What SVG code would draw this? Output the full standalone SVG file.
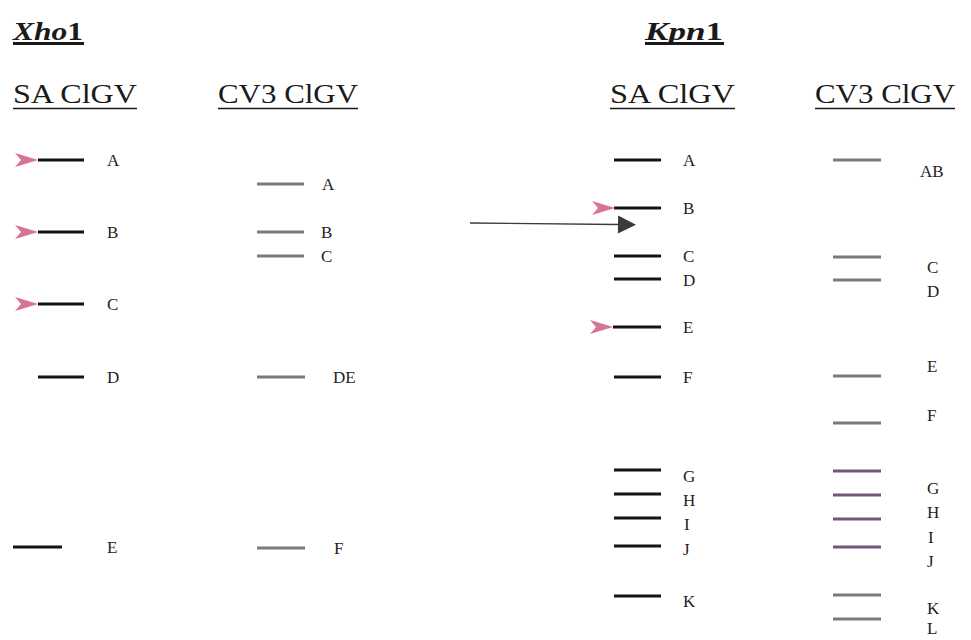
<svg xmlns="http://www.w3.org/2000/svg" width="971" height="640" viewBox="0 0 971 640">
  <defs>
    <style>
      .title { font-family: "Liberation Serif", serif; font-size: 26px; font-weight: bold; font-style: italic; fill: #1a1a1a; }
      .head { font-family: "Liberation Serif", serif; font-size: 27px; fill: #1a1a1a; }
      .lbl { font-family: "Liberation Serif", serif; font-size: 17px; fill: #222; }
      .sa { stroke: #141414; stroke-width: 3; }
      .cv { stroke: #7a7a7a; stroke-width: 3.2; }
      .cvp { stroke: #74557f; stroke-width: 3; }
      .ul { stroke: #1a1a1a; stroke-width: 1.5; }
      .tick { fill: #d77393; }
    </style>
    <!-- pink notched pointer marking a band -->
    <path id="ptr" d="M-23,-7 L0,0 L-23,7 L-17,0 Z"/>
    <marker id="bigHead" markerWidth="20" markerHeight="20" refX="1" refY="10" orient="auto" markerUnits="userSpaceOnUse">
      <path d="M1,1 L19,10 L1,19 Z" fill="#3a3a3a"/>
    </marker>
  </defs>
  <rect width="971" height="640" fill="#ffffff"/>

  <!-- enzyme titles -->
  <g id="title-xho1">
    <text class="title" x="13" y="40" textLength="70" lengthAdjust="spacingAndGlyphs">Xho<tspan font-style="normal">1</tspan></text>
    <rect x="13" y="42" width="71" height="3" fill="#1a1a1a"/>
  </g>
  <g id="title-kpn1">
    <text class="title" x="645" y="40" textLength="78" lengthAdjust="spacingAndGlyphs">Kpn<tspan font-style="normal">1</tspan></text>
    <rect x="645" y="42" width="79" height="3" fill="#1a1a1a"/>
  </g>

  <!-- lane headings -->
  <g id="head-xho-sa">
    <text class="head" x="13" y="103" textLength="124" lengthAdjust="spacingAndGlyphs">SA ClGV</text>
    <line class="ul" x1="13" y1="108.5" x2="137" y2="108.5"/>
  </g>
  <g id="head-xho-cv3">
    <text class="head" x="218" y="103" textLength="140" lengthAdjust="spacingAndGlyphs">CV3 ClGV</text>
    <line class="ul" x1="218" y1="108.5" x2="358" y2="108.5"/>
  </g>
  <g id="head-kpn-sa">
    <text class="head" x="610" y="103" textLength="125" lengthAdjust="spacingAndGlyphs">SA ClGV</text>
    <line class="ul" x1="610" y1="108.5" x2="735" y2="108.5"/>
  </g>
  <g id="head-kpn-cv3">
    <text class="head" x="815" y="103" textLength="140" lengthAdjust="spacingAndGlyphs">CV3 ClGV</text>
    <line class="ul" x1="815" y1="108.5" x2="955" y2="108.5"/>
  </g>

  <!-- Xho1, SA ClGV lane -->
  <g id="xho-sa">
    <g id="xho-sa-A"><line class="sa" x1="38" y1="160" x2="84" y2="160"/><use href="#ptr" class="tick" x="38" y="160"/><text class="lbl" x="107" y="166">A</text></g>
    <g id="xho-sa-B"><line class="sa" x1="38" y1="232" x2="84" y2="232"/><use href="#ptr" class="tick" x="38" y="232"/><text class="lbl" x="107" y="238">B</text></g>
    <g id="xho-sa-C"><line class="sa" x1="38" y1="304" x2="84" y2="304"/><use href="#ptr" class="tick" x="38" y="304"/><text class="lbl" x="107" y="310">C</text></g>
    <g id="xho-sa-D"><line class="sa" x1="38" y1="377" x2="84" y2="377"/><text class="lbl" x="107" y="383">D</text></g>
    <g id="xho-sa-E"><line class="sa" x1="13" y1="547" x2="62" y2="547"/><text class="lbl" x="107" y="553">E</text></g>
  </g>

  <!-- Xho1, CV3 ClGV lane -->
  <g id="xho-cv3">
    <g id="xho-cv3-A"><line class="cv" x1="257" y1="184" x2="304" y2="184"/><text class="lbl" x="322" y="190">A</text></g>
    <g id="xho-cv3-B"><line class="cv" x1="257" y1="232" x2="304" y2="232"/><text class="lbl" x="321" y="238">B</text></g>
    <g id="xho-cv3-C"><line class="cv" x1="257" y1="256" x2="304" y2="256"/><text class="lbl" x="321" y="262">C</text></g>
    <g id="xho-cv3-DE"><line class="cv" x1="257" y1="377" x2="305" y2="377"/><text class="lbl" x="333" y="383">DE</text></g>
    <g id="xho-cv3-F"><line class="cv" x1="257" y1="548" x2="305" y2="548"/><text class="lbl" x="334" y="554">F</text></g>
  </g>

  <!-- connector -->
  <g id="connectors">
    <line x1="470" y1="223" x2="618" y2="224.5" stroke="#3a3a3a" stroke-width="1.3" marker-end="url(#bigHead)"/>
  </g>

  <!-- Kpn1, SA ClGV lane -->
  <g id="kpn-sa">
    <g id="kpn-sa-A"><line class="sa" x1="614" y1="160" x2="661" y2="160"/><text class="lbl" x="683" y="166">A</text></g>
    <g id="kpn-sa-B"><line class="sa" x1="614" y1="208" x2="661" y2="208"/><use href="#ptr" class="tick" x="615" y="208"/><text class="lbl" x="683" y="214">B</text></g>
    <g id="kpn-sa-C"><line class="sa" x1="614" y1="256" x2="661" y2="256"/><text class="lbl" x="683" y="262">C</text></g>
    <g id="kpn-sa-D"><line class="sa" x1="614" y1="279" x2="661" y2="279"/><text class="lbl" x="683" y="286">D</text></g>
    <g id="kpn-sa-E"><line class="sa" x1="613" y1="327" x2="661" y2="327"/><use href="#ptr" class="tick" x="613" y="327"/><text class="lbl" x="683" y="333">E</text></g>
    <g id="kpn-sa-F"><line class="sa" x1="614" y1="377" x2="661" y2="377"/><text class="lbl" x="683" y="383">F</text></g>
    <g id="kpn-sa-G"><line class="sa" x1="614" y1="470" x2="661" y2="470"/><text class="lbl" x="683" y="482">G</text></g>
    <g id="kpn-sa-H"><line class="sa" x1="614" y1="494" x2="661" y2="494"/><text class="lbl" x="683" y="506">H</text></g>
    <g id="kpn-sa-I"><line class="sa" x1="614" y1="518" x2="661" y2="518"/><text class="lbl" x="684" y="530">I</text></g>
    <g id="kpn-sa-J"><line class="sa" x1="614" y1="546" x2="661" y2="546"/><text class="lbl" x="683" y="555">J</text></g>
    <g id="kpn-sa-K"><line class="sa" x1="614" y1="596" x2="661" y2="596"/><text class="lbl" x="683" y="607">K</text></g>
  </g>

  <!-- Kpn1, CV3 ClGV lane -->
  <g id="kpn-cv3">
    <g id="kpn-cv3-AB"><line class="cv" x1="833" y1="160" x2="881" y2="160"/><text class="lbl" x="920" y="177">AB</text></g>
    <g id="kpn-cv3-C"><line class="cv" x1="833" y1="257" x2="881" y2="257"/><text class="lbl" x="927" y="273">C</text></g>
    <g id="kpn-cv3-D"><line class="cv" x1="833" y1="280" x2="881" y2="280"/><text class="lbl" x="927" y="297">D</text></g>
    <g id="kpn-cv3-E"><line class="cv" x1="833" y1="376" x2="881" y2="376"/><text class="lbl" x="927" y="372">E</text></g>
    <g id="kpn-cv3-F"><line class="cv" x1="833" y1="423" x2="881" y2="423"/><text class="lbl" x="927" y="421">F</text></g>
    <g id="kpn-cv3-G"><line class="cvp" x1="833" y1="471" x2="881" y2="471"/><text class="lbl" x="927" y="494">G</text></g>
    <g id="kpn-cv3-H"><line class="cvp" x1="833" y1="495" x2="881" y2="495"/><text class="lbl" x="927" y="518">H</text></g>
    <g id="kpn-cv3-I"><line class="cvp" x1="833" y1="519" x2="881" y2="519"/><text class="lbl" x="928" y="543">I</text></g>
    <g id="kpn-cv3-J"><line class="cvp" x1="833" y1="547" x2="881" y2="547"/><text class="lbl" x="927" y="567">J</text></g>
    <g id="kpn-cv3-K"><line class="cv" x1="833" y1="595" x2="881" y2="595"/><text class="lbl" x="927" y="614">K</text></g>
    <g id="kpn-cv3-L"><line class="cv" x1="833" y1="619" x2="881" y2="619"/><text class="lbl" x="927" y="634">L</text></g>
  </g>
</svg>
